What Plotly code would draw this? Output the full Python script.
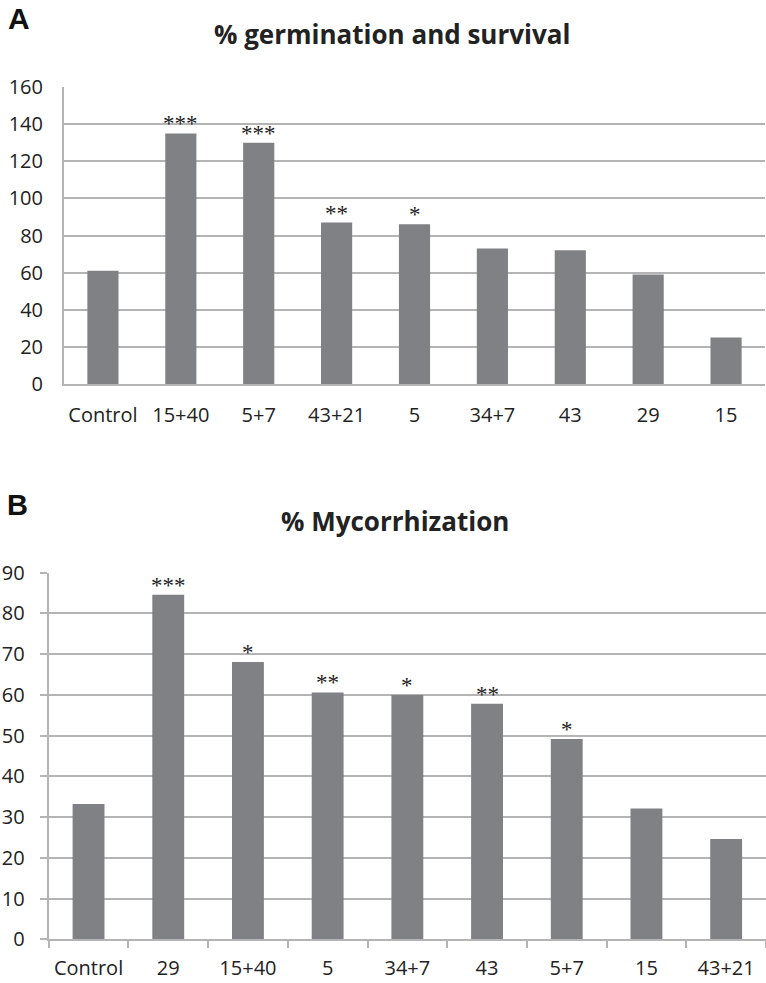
import plotly.graph_objects as go

# Panel A data
cats_a = ["Control", "15+40", "5+7", "43+21", "5", "34+7", "43", "29", "15"]
vals_a = [61, 135, 130, 87, 86, 73, 72, 59, 25]
sig_a = ["", "***", "***", "**", "*", "", "", "", ""]
title_a = "% germination and survival"

# Panel B data
cats_b = ["Control", "29", "15+40", "5", "34+7", "43", "5+7", "15", "43+21"]
vals_b = [33.2, 84.6, 68.1, 60.6, 60.0, 57.8, 49.2, 32.1, 24.6]
sig_b = ["", "***", "*", "**", "*", "**", "*", "", ""]
title_b = "% Mycorrhization"

W, H = 766, 983
BAR = "#808185"
GRID = "#b4b4b4"
TXT = "#222222"
FONT = "Open Sans"


def fx(px):
    return px / W


def fy(py):
    return 1 - py / H


fig = go.Figure()
fig.add_trace(go.Bar(x=cats_a, y=vals_a, marker_color=BAR, marker_line_width=0,
                     xaxis="x", yaxis="y", showlegend=False, hoverinfo="x+y"))
fig.add_trace(go.Bar(x=cats_b, y=vals_b, marker_color=BAR, marker_line_width=0,
                     xaxis="x2", yaxis="y2", showlegend=False, hoverinfo="x+y"))

annotations = []
sigfont = dict(family="Liberation Serif", size=23, color=TXT)
for i, (v, s) in enumerate(zip(vals_a, sig_a)):
    if s:
        annotations.append(dict(x=i, y=v, xref="x", yref="y", text=s, showarrow=False,
                                yanchor="bottom", yshift=-5, font=sigfont))
for i, (v, s) in enumerate(zip(vals_b, sig_b)):
    if s:
        annotations.append(dict(x=i, y=v, xref="x2", yref="y2", text=s, showarrow=False,
                                yanchor="bottom", yshift=-5, font=sigfont))

annotations += [
    dict(x=fx(392), y=fy(34), xref="paper", yref="paper", text="<b>" + title_a + "</b>",
         showarrow=False, xanchor="center", yanchor="middle",
         font=dict(family=FONT, size=26, color=TXT)),
    dict(x=fx(395), y=fy(521), xref="paper", yref="paper", text="<b>" + title_b + "</b>",
         showarrow=False, xanchor="center", yanchor="middle",
         font=dict(family=FONT, size=26, color=TXT)),
    dict(x=fx(6), y=fy(18), xref="paper", yref="paper", text="<b>A</b>",
         showarrow=False, xanchor="left", yanchor="middle",
         font=dict(family="Liberation Sans", size=30, color="#111")),
    dict(x=fx(5), y=fy(505), xref="paper", yref="paper", text="<b>B</b>",
         showarrow=False, xanchor="left", yanchor="middle",
         font=dict(family="Liberation Sans", size=29, color="#111")),
]

tickfont = dict(family=FONT, size=20, color=TXT)

fig.update_layout(
    width=W, height=H,
    margin=dict(l=0, r=0, t=0, b=0, autoexpand=False),
    paper_bgcolor="white", plot_bgcolor="white",
    bargap=0.6,
    annotations=annotations,
    xaxis=dict(domain=[fx(64), fx(765)], anchor="y", type="category", showgrid=False,
               range=[-0.5, len(cats_a) - 0.5],
               showline=True, linecolor=GRID, linewidth=2, ticks="", tickangle=0,
               automargin=False,
               tickfont=tickfont, ticklabelstandoff=12, fixedrange=True),
    yaxis=dict(domain=[fy(384), fy(87)], anchor="x", range=[0, 160], dtick=20,
               showgrid=True, gridcolor=GRID, gridwidth=2, zeroline=False,
               showline=True, linecolor=GRID, linewidth=2, ticks="", automargin=False,
               tickfont=tickfont, ticklabelstandoff=15, fixedrange=True),
    xaxis2=dict(domain=[fx(48.7), 1.0], anchor="y2", type="category", showgrid=False,
                range=[-0.5, len(cats_b) - 0.5],
                showline=True, linecolor=GRID, linewidth=2, tickangle=0,
                ticks="outside", tickson="boundaries", ticklen=7, tickcolor=GRID, tickwidth=2,
                automargin=False,
                tickfont=tickfont, ticklabelstandoff=10, fixedrange=True),
    yaxis2=dict(domain=[fy(939.3), fy(572.7)], anchor="x2", range=[0, 90], dtick=10,
                showgrid=True, gridcolor=GRID, gridwidth=2, zeroline=False,
                showline=True, linecolor=GRID, linewidth=2,
                ticks="outside", ticklen=7, tickcolor=GRID, tickwidth=2, automargin=False,
                tickfont=tickfont, ticklabelstandoff=11, fixedrange=True),
)

# remove the default 8px page margin so the figure fills the window exactly
fig.write_html("out.html",
               config={"displayModeBar": False},
               post_script="document.body.style.margin='0';document.body.style.overflow='hidden';")
